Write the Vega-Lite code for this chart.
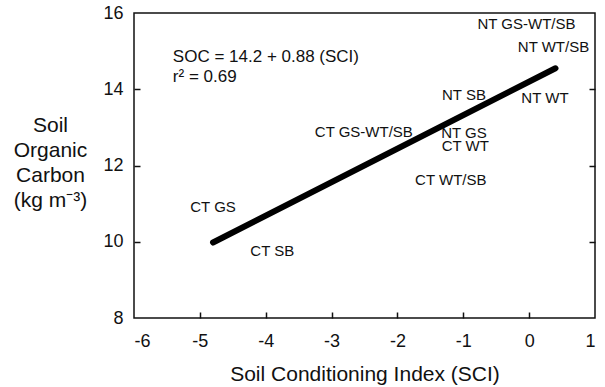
{
  "$schema": "https://vega.github.io/schema/vega-lite/v6.json",
  "width": 461,
  "height": 305,
  "autosize": "none",
  "padding": {"left": 134, "top": 13, "right": 10, "bottom": 69},
  "config": {
    "font": "Liberation Sans",
    "view": {"stroke": "#111", "strokeWidth": 1.5},
    "axis": {
      "grid": false,
      "domain": false,
      "tickColor": "#111",
      "tickWidth": 1.5,
      "labelFont": "Liberation Sans",
      "labelFontSize": 18,
      "labelColor": "#111",
      "titleFont": "Liberation Sans",
      "titleFontSize": 21,
      "titleFontWeight": "normal",
      "titleColor": "#111"
    }
  },
  "datasets": {
    "fit": [
      {"SCI": -4.8, "SOC": 9.98},
      {"SCI": 0.4, "SOC": 14.55}
    ],
    "labels": [
      {"treatment": "NT GS-WT/SB", "SCI": -0.04, "SOC": 15.71},
      {"treatment": "NT WT/SB", "SCI": 0.37, "SOC": 15.12},
      {"treatment": "NT SB", "SCI": -0.99, "SOC": 13.84},
      {"treatment": "NT WT", "SCI": 0.24, "SOC": 13.76},
      {"treatment": "CT GS-WT/SB", "SCI": -2.51, "SOC": 12.89},
      {"treatment": "NT GS", "SCI": -0.99, "SOC": 12.85},
      {"treatment": "CT WT", "SCI": -0.97, "SOC": 12.52},
      {"treatment": "CT WT/SB", "SCI": -1.19, "SOC": 11.63},
      {"treatment": "CT GS", "SCI": -4.8, "SOC": 10.9},
      {"treatment": "CT SB", "SCI": -3.9, "SOC": 9.76}
    ],
    "eq": [
      {"text": "SOC = 14.2 + 0.88 (SCI)", "SCI": -5.41, "SOC": 14.71},
      {"text": "r² = 0.69", "SCI": -5.41, "SOC": 14.19}
    ]
  },
  "layer": [
    {
      "data": {"name": "fit"},
      "mark": {"type": "line", "strokeWidth": 6, "strokeCap": "round", "color": "#000"},
      "encoding": {
        "x": {
          "field": "SCI", "type": "quantitative",
          "scale": {"domain": [-6, 1], "nice": false, "zero": false},
          "axis": {
            "orient": "bottom",
            "values": [-6, -5, -4, -3, -2, -1, 0, 1],
            "labelExpr": "datum.value < 0 ? '-' + abs(datum.value) : '' + datum.value",
            "ticks": false,
            "tickSize": 0,
            "labelPadding": 14,
            "title": "Soil Conditioning Index (SCI)",
            "titleBaseline": "alphabetic",
            "titleY": 62
          }
        },
        "y": {
          "field": "SOC", "type": "quantitative",
          "scale": {"domain": [8, 16], "nice": false, "zero": false},
          "axis": {
            "orient": "left",
            "values": [8, 10, 12, 14, 16],
            "ticks": false,
            "tickSize": 0,
            "labelPadding": 11,
            "title": ["Soil", "Organic", "Carbon", "(kg m⁻³)"],
            "titleAngle": 0,
            "titleAlign": "center",
            "titleBaseline": "alphabetic",
            "titleX": -84,
            "titleY": 118,
            "titleLineHeight": 25
          }
        }
      }
    },
    {
      "data": {"name": "labels"},
      "mark": {"type": "text", "fontSize": 15, "align": "center", "baseline": "middle", "color": "#111"},
      "encoding": {
        "x": {
          "field": "SCI", "type": "quantitative",
          "axis": {"orient": "top", "offset": -305, "values": [-5, -4, -3, -2, -1, 0], "labels": false, "ticks": true, "tickSize": 6, "title": null}
        },
        "y": {
          "field": "SOC", "type": "quantitative",
          "axis": {"orient": "left", "offset": -461, "values": [10, 12, 14], "labels": false, "ticks": true, "tickSize": 6, "title": null}
        },
        "text": {"field": "treatment"}
      }
    },
    {
      "data": {"name": "eq"},
      "mark": {"type": "text", "fontSize": 17, "align": "left", "baseline": "alphabetic", "color": "#111"},
      "encoding": {
        "x": {"field": "SCI", "type": "quantitative", "axis": null},
        "y": {
          "field": "SOC", "type": "quantitative",
          "axis": {"orient": "right", "offset": -461, "values": [10, 12, 14], "labels": false, "ticks": true, "tickSize": 6, "title": null}
        },
        "text": {"field": "text"}
      }
    }
  ],
  "resolve": {"axis": {"x": "independent", "y": "independent"}}
}
